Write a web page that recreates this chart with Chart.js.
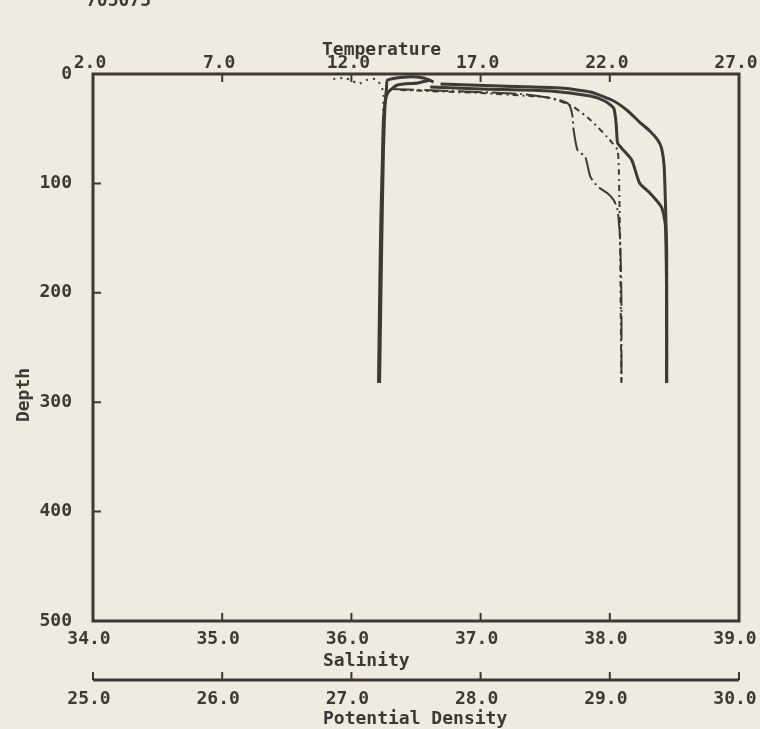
<!DOCTYPE html>
<html lang="en">
<head>
<meta charset="UTF-8">
<title>Temperature, Salinity and Potential Density vs Depth</title>
<script src="https://cdn.jsdelivr.net/npm/chart.js@4.4.0/dist/chart.umd.min.js"></script>
<style>
  html, body { margin: 0; padding: 0; background: #eeebe1; }
  canvas { display: block; }
</style>
</head>
<body>
<canvas id="profileChart" width="760" height="729"></canvas>
<script>
// profiles: depth (m) and value at that depth
const tempDepth1 = [5.5, 8.2, 10.1, 16.5, 23.8, 42, 78.6, 133.5, 206.6, 282.5];
const temp1 = [15.06, 14.56, 13.78, 13.43, 13.32, 13.24, 13.20, 13.14, 13.09, 13.05];
const tempDepth2 = [7.3, 3.7, 2.7, 5.5, 12.8, 28.3, 69.5, 160.9, 282.5];
const temp2 = [15.18, 14.79, 14.17, 13.40, 13.36, 13.30, 13.24, 13.17, 13.09];
const tempDepth3 = [4.6, 3.7, 6.4, 9.1, 5.5, 4.6, 11, 19.2, 69.5, 282.5];
const temp3 = [11.30, 11.77, 12.04, 12.27, 12.58, 12.93, 13.16, 13.24, 13.20, 13.07];

const salDepth1 = [9.1, 11.0, 12.8, 16.5, 24.7, 33.8, 43.9, 52.1, 60.3, 67.6, 83.2, 115.2, 160.9, 206.6, 282.5];
const sal1 = [36.69, 37.15, 37.62, 37.85, 38.03, 38.14, 38.23, 38.31, 38.37, 38.40, 38.42, 38.43, 38.44, 38.44, 38.44];
const salDepth2 = [11.9, 13.7, 15.5, 20.1, 24.7, 31.1, 46.6, 63.0, 67.6, 78.6, 99.6, 108.8, 121.6, 138.0, 206.6, 282.5];
const sal2 = [36.61, 37.00, 37.54, 37.85, 37.96, 38.03, 38.05, 38.06, 38.09, 38.17, 38.23, 38.31, 38.40, 38.43, 38.44, 38.44];

const denDepth1 = [13.7, 15.5, 18.3, 22.8, 27.4, 37.5, 51.2, 69.5, 75.9, 94.1, 103.3, 108.8, 115.2, 124.3, 151.7, 206.6, 282.5];
const den1 = [27.30, 27.76, 28.31, 28.58, 28.68, 28.71, 28.72, 28.75, 28.81, 28.85, 28.91, 28.98, 29.03, 29.06, 29.08, 29.09, 29.09];
const denDepth2 = [14.6, 17.4, 20.1, 21.9, 30.2, 42.0, 57.6, 63.1, 69.5, 87.8, 160.9, 282.5];
const den2 = [27.38, 28.00, 28.38, 28.54, 28.72, 28.85, 28.98, 29.02, 29.06, 29.07, 29.08, 29.09];

const INK = '#3d3935';
const PAPER = '#eeebe1';
const FONT = 'DejaVu Sans Mono';

function pts(vals, depths) {
  return vals.map((v, i) => ({x: v, y: depths[i]}));
}

function profile(vals, depths, axis, width, dash) {
  return {
    data: pts(vals, depths),
    xAxisID: axis,
    yAxisID: 'y',
    showLine: true,
    borderColor: INK,
    borderWidth: width,
    borderDash: dash || [],
    pointRadius: 0,
    tension: 0.2
  };
}

// frame, inward ticks, density axis line and the titles
const plotterFrame = {
  id: 'plotterFrame',
  beforeDraw(chart) {
    const ctx = chart.ctx;
    ctx.save();
    ctx.fillStyle = PAPER;
    ctx.fillRect(0, 0, chart.width, chart.height);
    ctx.restore();
  },
  afterDraw(chart) {
    const {ctx, chartArea: a, scales} = chart;
    ctx.save();
    ctx.strokeStyle = INK;
    ctx.lineWidth = 3;
    ctx.strokeRect(a.left, a.top, a.right - a.left, a.bottom - a.top);

    ctx.lineWidth = 2;
    ctx.beginPath();
    scales.xT.ticks.forEach(t => {
      const x = scales.xT.getPixelForValue(t.value);
      ctx.moveTo(x, a.top); ctx.lineTo(x, a.top + 8);
    });
    scales.xS.ticks.forEach(t => {
      const x = scales.xS.getPixelForValue(t.value);
      ctx.moveTo(x, a.bottom); ctx.lineTo(x, a.bottom - 8);
    });
    scales.y.ticks.forEach(t => {
      const y = scales.y.getPixelForValue(t.value);
      ctx.moveTo(a.left, y); ctx.lineTo(a.left + 8, y);
    });
    const dy = scales.xD.top;
    scales.xD.ticks.forEach(t => {
      const x = scales.xD.getPixelForValue(t.value);
      ctx.moveTo(x, dy); ctx.lineTo(x, dy - 8);
    });
    ctx.stroke();

    ctx.lineWidth = 3;
    ctx.beginPath();
    ctx.moveTo(scales.xD.left, dy);
    ctx.lineTo(scales.xD.right, dy);
    ctx.stroke();

    ctx.fillStyle = INK;
    ctx.font = 'bold 18px "' + FONT + '"';
    ctx.textAlign = 'left';
    ctx.textBaseline = 'alphabetic';
    ctx.fillText('705075', 86, 6);
    ctx.fillText('Temperature', 322, 55);
    ctx.fillText('Salinity', 323, 666);
    ctx.fillText('Potential Density', 323, 724);

    ctx.translate(24, 395);
    ctx.rotate(-Math.PI / 2);
    ctx.textAlign = 'center';
    ctx.textBaseline = 'middle';
    ctx.fillText('Depth', 0, 0);
    ctx.restore();
  }
};

const tickFont = {family: FONT, size: 18, weight: 'bold'};
const oneDecimal = v => Number(v).toFixed(1);

// fix the axis boxes so the plot frame sits where the reference has it
function fitX(h) {
  return s => { s.height = h; s.paddingLeft = 0; s.paddingRight = 0; };
}

new Chart(document.getElementById('profileChart'), {
  type: 'scatter',
  data: {
    datasets: [
      profile(temp1, tempDepth1, 'xT', 3),
      profile(temp2, tempDepth2, 'xT', 3),
      profile(temp3, tempDepth3, 'xT', 2, [2, 5]),
      profile(sal1, salDepth1, 'xS', 3),
      profile(sal2, salDepth2, 'xS', 3),
      profile(den1, denDepth1, 'xD', 2, [24, 4, 2, 4]),
      profile(den2, denDepth2, 'xD', 2, [6, 4, 2, 4])
    ]
  },
  options: {
    responsive: false,
    animation: false,
    layout: {padding: {left: 0, top: 0, right: 21, bottom: 0}},
    plugins: {legend: {display: false}, tooltip: {enabled: false}},
    scales: {
      xT: {
        type: 'linear', axis: 'x', position: 'top', min: 2, max: 27,
        grid: {display: false, drawTicks: false}, border: {display: false},
        ticks: {stepSize: 5, font: tickFont, color: INK, padding: 0, labelOffset: -3, autoSkip: false, maxRotation: 0, callback: oneDecimal},
        afterFit: fitX(74)
      },
      xS: {
        type: 'linear', axis: 'x', position: 'bottom', min: 34, max: 39, weight: 0,
        grid: {display: false, drawTicks: false}, border: {display: false},
        ticks: {stepSize: 1, font: tickFont, color: INK, padding: 8, labelOffset: -4, autoSkip: false, maxRotation: 0, callback: oneDecimal},
        afterFit: fitX(59)
      },
      xD: {
        type: 'linear', axis: 'x', position: 'bottom', min: 25, max: 30, weight: 1,
        grid: {display: false, drawTicks: false}, border: {display: false},
        ticks: {stepSize: 1, font: tickFont, color: INK, padding: 9, labelOffset: -4, autoSkip: false, maxRotation: 0, callback: oneDecimal},
        afterFit: fitX(49)
      },
      y: {
        type: 'linear', position: 'left', min: 0, max: 500, reverse: true,
        grid: {display: false, drawTicks: false}, border: {display: false},
        ticks: {stepSize: 100, font: tickFont, color: INK, padding: 21},
        afterFit: s => { s.width = 93; s.paddingTop = 0; s.paddingBottom = 0; }
      }
    }
  },
  plugins: [plotterFrame]
});
</script>
</body>
</html>
